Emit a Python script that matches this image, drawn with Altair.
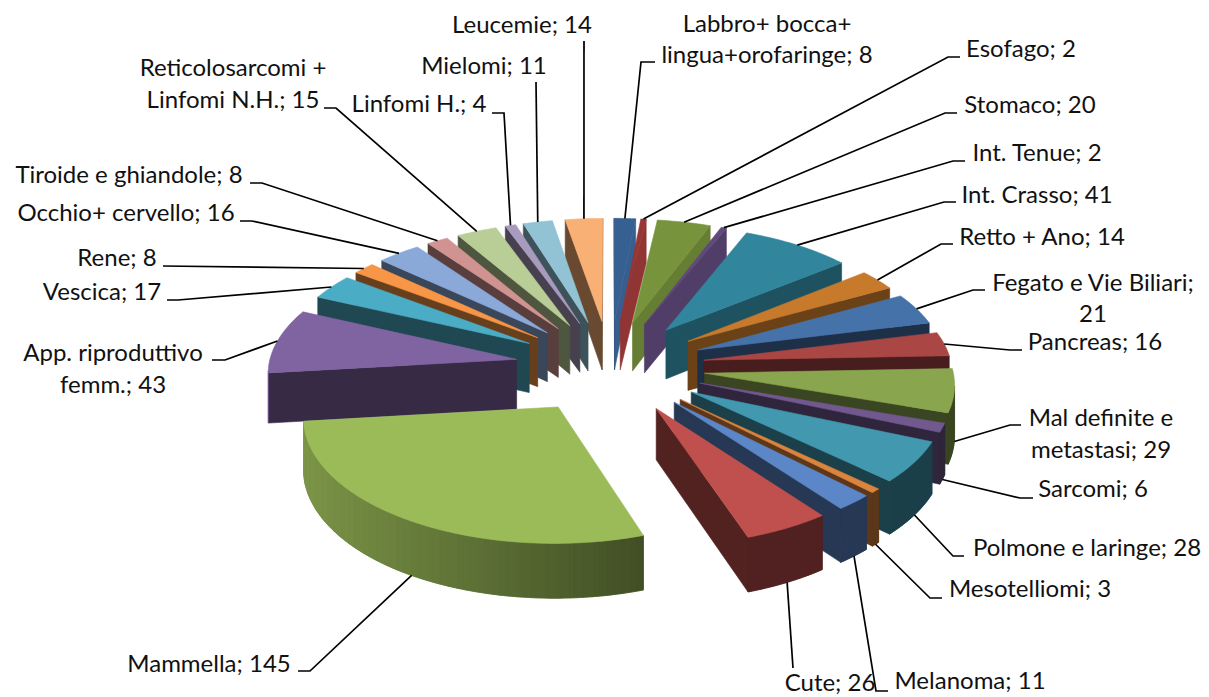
import math
import altair as alt

names = ["Labbro+ bocca+ lingua+orofaringe", "Esofago", "Stomaco", "Int. Tenue", "Int. Crasso",
         "Retto + Ano", "Fegato e Vie Biliari", "Pancreas", "Mal definite e metastasi", "Sarcomi",
         "Polmone e laringe", "Mesotelliomi", "Melanoma", "Cute", "Mammella",
         "App. riproduttivo femm.", "Vescica", "Rene", "Occhio+ cervello", "Tiroide e ghiandole",
         "Reticolosarcomi + Linfomi N.H.", "Linfomi H.", "Mielomi", "Leucemie"]
values = [8, 2, 20, 2, 41, 14, 21, 16, 29, 6, 28, 3, 11, 26, 145, 43, 17, 8, 16, 8, 15, 4, 11, 14]
colors = ["#376092", "#953735", "#77933c", "#604a7b", "#31859c", "#c77a2c", "#4672aa", "#aa4644",
          "#89a54e", "#71588f", "#4198af", "#db843d", "#5b86c8", "#c0504d", "#9bbb59", "#8064a2",
          "#4bacc6", "#f79646", "#8aa8d8", "#d19392", "#b9cd96", "#a99bbd", "#91c3d5", "#f9b074"]

# label layout: text lines (centre x, centre y) and leader elbow/end, per slice
label_lines = [
    [("Labbro+ bocca+", 767, 25), ("lingua+orofaringe; 8", 767, 56)],
    [("Esofago; 2", 1021, 50)],
    [("Stomaco; 20", 1030, 106)],
    [("Int. Tenue; 2", 1037, 154)],
    [("Int. Crasso; 41", 1037, 196)],
    [("Retto + Ano; 14", 1042, 238)],
    [("Fegato e Vie Biliari;", 1093, 284), ("21", 1093, 315)],
    [("Pancreas; 16", 1095, 343)],
    [("Mal definite e", 1101, 419), ("metastasi; 29", 1101, 451)],
    [("Sarcomi; 6", 1093, 490)],
    [("Polmone e laringe; 28", 1087, 549)],
    [("Mesotelliomi; 3", 1030, 590)],
    [("Melanoma; 11", 970, 682)],
    [("Cute; 26", 830, 684)],
    [("Mammella; 145", 209, 665)],
    [("App. riproduttivo", 113, 354), ("femm.; 43", 113, 386)],
    [("Vescica; 17", 102, 293)],
    [("Rene; 8", 117, 259)],
    [("Occhio+ cervello; 16", 126, 214)],
    [("Tiroide e ghiandole; 8", 129, 176)],
    [("Reticolosarcomi +", 233, 69), ("Linfomi N.H.; 15", 233, 101)],
    [("Linfomi H.; 4", 419, 105)],
    [("Mielomi; 11", 484, 67)],
    [("Leucemie; 14", 522, 26)],
]
leader_tails = [
    [(641, 62), (655, 62)], [(948, 57), (960, 57)], [(945, 113), (957, 113)], [(953, 161), (965, 161)],
    [(944, 202), (956, 202)], [(941, 244), (953, 244)], [(973, 290), (985, 290)], [(1010, 350), (1022, 350)],
    [(1010, 425), (1021, 425)], [(1020, 498), (1033, 498)], [(953, 556), (964, 556)], [(930, 598), (942, 598)],
    [(876, 691), (888, 691)], [(793, 668)], [(310, 671), (298, 671)], [(225, 360), (212, 360)],
    [(178, 300), (167, 300)], [(163, 266)], [(252, 221), (240, 221)], [(262, 183), (250, 183)],
    [(336, 108), (324, 108)], [(504, 113), (492, 113)], [(536, 82)], [(584, 41)],
]

CX, CY, A, B, EXPLODE, PERSP_BACK, PERSP_FRONT, DEPTH = 610, 366.5, 248, 122, 0.383, 0.088, 0.072, 50
total = sum(values)


def project(wx, wy, drop=False):
    s = 1 - (PERSP_BACK if wy > 0 else PERSP_FRONT) * wy
    return (CX + A * wx * s, CY - B * wy * s + (DEPTH * s if drop else 0))


def shade(col, f):
    r, g, b = (int(col[i:i + 2], 16) for i in (1, 3, 5))
    return "#%02x%02x%02x" % (round(r * f), round(g * f), round(b * f))


def poly(pts, fill):
    ring = [list(p) for p in pts] + [list(pts[0])]
    return {"type": "Feature", "geometry": {"type": "Polygon", "coordinates": [ring]},
            "properties": {"fill": fill}}


slices, cum = [], 0
for i, v in enumerate(values):
    t0, t1 = cum / total * 2 * math.pi, (cum + v) / total * 2 * math.pi
    cum += v
    slices.append((i, t0, t1, (t0 + t1) / 2))

faces, leaders = [], []
for i, t0, t1, mid in sorted(slices, key=lambda r: -math.cos(r[3])):
    ox, oy = EXPLODE * math.sin(mid), EXPLODE * math.cos(mid)
    n = max(2, int(math.degrees(t1 - t0) / 1.0))
    thetas = [t0 + (t1 - t0) * k / n for k in range(n + 1)]
    world = [(ox + math.sin(t), oy + math.cos(t)) for t in thetas]
    apex_w = (ox, oy)
    col = colors[i]
    apex, apex_d = project(*apex_w), project(*apex_w, True)
    top = [project(*w) for w in world]
    bot = [project(*w, True) for w in world]
    # start cut face
    if top[0][0] < apex[0]:
        faces.append(poly([apex, top[0], bot[0], apex_d], shade(col, 0.42)))
    # end cut face
    if top[-1][0] > apex[0]:
        f = max(0.42, 1.02 - 0.0078 * math.degrees(t1))
        faces.append(poly([top[-1], apex, apex_d, bot[-1]], shade(col, f)))
    # outer wall: runs of equal shade merged into one polygon, on a solid base
    vis = [k for k in range(n) if top[k + 1][0] < top[k][0]]
    if vis:
        a, b = vis[0], vis[-1] + 1
        shades = [round(min(0.8, max(0.42, 0.514 - 0.288 * math.sin((thetas[k] + thetas[k + 1]) / 2))) * 125) / 125
                  for k in vis]
        faces.append(poly(top[a:b + 1] + bot[a:b + 1][::-1], shade(col, sum(shades) / len(shades))))
        run = 0
        while run < len(vis):
            end = run
            while end + 1 < len(vis) and shades[end + 1] == shades[run]:
                end += 1
            p, q = vis[run], vis[end] + 1
            faces.append(poly(top[p:q + 1] + bot[p:q + 1][::-1], shade(col, shades[run])))
            run = end + 1
    faces.append(poly([apex] + top, col))

for i, t0, t1, mid in slices:
    wx, wy = (EXPLODE + 1) * math.sin(mid), (EXPLODE + 1) * math.cos(mid)
    start = project(wx, wy, math.cos(mid) < -0.05)
    coords = [list(start)] + [list(p) for p in leader_tails[i]]
    leaders.append({"type": "Feature", "geometry": {"type": "LineString", "coordinates": coords},
                    "properties": {"name": names[i]}})

text_rows = [{"t": t, "lon": x, "lat": y} for lines in label_lines for t, x, y in lines]

faces_layer = alt.Chart(alt.Data(values=faces)).mark_geoshape(strokeWidth=0.6).encode(
    fill=alt.Fill("properties.fill:N", scale=None),
    stroke=alt.Stroke("properties.fill:N", scale=None),
).project(type="identity", scale=1, translate=[-8, -8])

leader_layer = alt.Chart(alt.Data(values=leaders)).mark_geoshape(
    filled=False, stroke="#000000", strokeWidth=1.7
).project(type="identity", scale=1, translate=[-8, -8])

text_layer = alt.Chart(alt.Data(values=text_rows)).mark_text(
    font="Lato", fontSize=24, color="#111111", align="center", baseline="middle"
).encode(
    longitude="lon:Q", latitude="lat:Q", text="t:N"
).project(type="identity", scale=1, translate=[-8, -8])

chart = alt.layer(faces_layer, leader_layer, text_layer).properties(
    width=1193, height=689, padding=0, autosize=alt.AutoSizeParams(type="none"),
    background="#ffffff",
).configure_view(stroke=None)

chart.save("out.html", embed_options={"renderer": "svg", "actions": False})
